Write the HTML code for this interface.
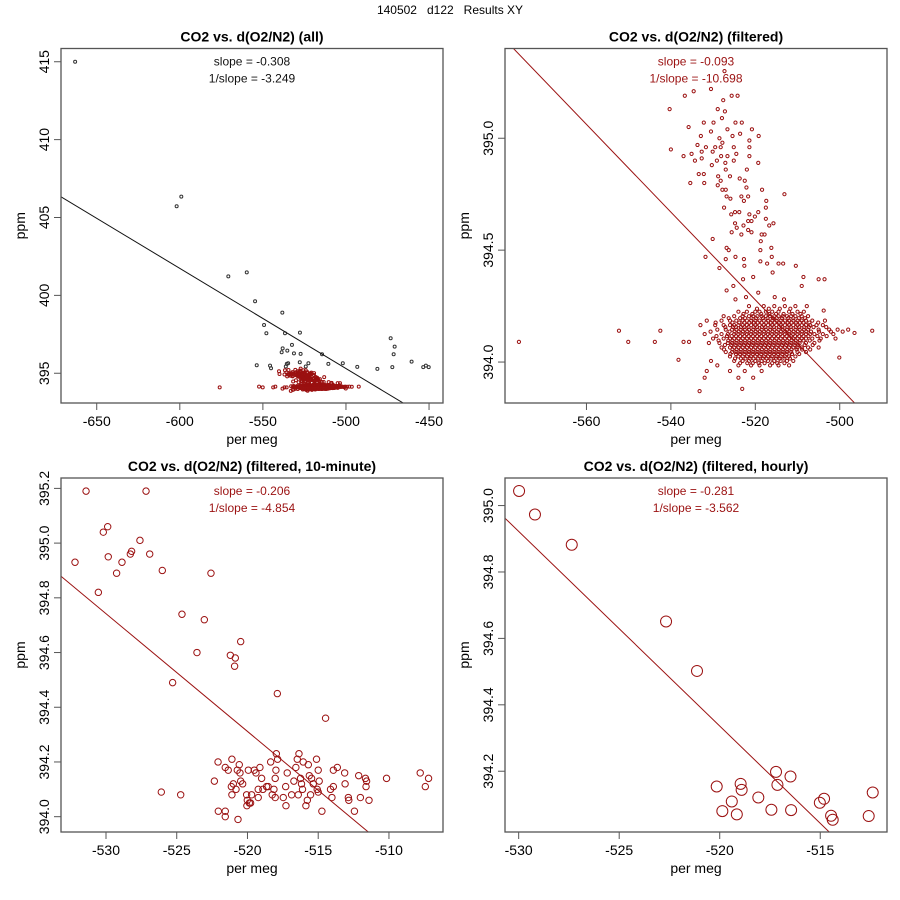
<!DOCTYPE html>
<html><head><meta charset="utf-8"><style>
html,body{margin:0;padding:0;background:#fff}
svg{display:block;font-family:"Liberation Sans",sans-serif}
</style></head><body>
<svg id="chart" width="900" height="900" viewBox="0 0 900 900" xmlns="http://www.w3.org/2000/svg">
<text x="450" y="14" text-anchor="middle" font-size="12" fill="#000" style="white-space:pre">140502   d122   Results XY</text>
</svg>
<script>
// ---- Panel 1 outliers (black, all data) ----
const allOutX = [-663.0,-601.9,-599.1,-570.8,-559.7,-554.7,-538.3,-549.3,-547.9,-536.7,-527.7,-532.5,-538.1,-535.3,-538.7,-531.3,-527.3,-514.4,-553.7,-545.7,-545.1,-535.6,-534.8,-536.2,-527.8,-522.6,-524.2,-510.6,-501.9,-493.2,-481.1,-473.1,-470.7,-471.3,-472.1,-460.5,-453.5,-451.9,-450.2];
const allOutY = [415.0,405.72,406.34,401.22,401.48,399.62,398.89,398.10,397.57,397.57,397.61,396.82,396.60,396.45,396.35,396.28,396.24,396.22,395.51,395.49,395.32,395.60,395.64,395.43,395.71,395.64,395.43,395.60,395.64,395.41,395.28,397.25,396.71,396.22,395.39,395.75,395.39,395.49,395.39];

// ---- Filtered data: scattered points ----
const filtScatX = [-576.0,-552.3,-550.1,-543.8,-542.5,-538.2,-537.0,-535.7,-533.2,-523.1,-492.3,-496.5,-500.1,
-527.3,-530.5,-536.7,-534.6,-527.6,-525.6,-524.2,-540.3,-528.9,-527.2,-535.8,-532.2,-529.9,-527.9,-524.7,-523.2,-520.8,-519.2,-532.9,-530.5,-528.5,-526.6,-525.4,-523.6,-540.0,-537.0,-535.1,-533.7,-532.7,-531.7,-530.1,-529.5,-528.2,-527.8,-526.6,-525.1,-524.5,-534.3,-532.7,-530.3,-529.1,-528.1,-527.1,-525.1,-521.4,-521.4,-521.4,-519.3,-533.4,-532.2,-528.8,-527.0,-526.0,-523.7,-522.0,-535.4,-532.1,-528.9,-528.2,-522.5,-522.1,-527.8,-527.0,-518.4,-513.1,-526.8,-525.9,-523.3,-522.7,-521.7,-517.4,-517.5,-527.4,-524.8,-523.8,-521.4,-520.1,-519.3,-525.7,-521.7,-520.9,-517.5,-516.7,-515.7,-524.8,-524.4,-522.8,-521.7,-520.9,-518.5,-517.8,-525.6,-523.3,-530.1,-518.7,-516.2,-526.8,-526.3,-518.8,-531.8,-524.7,-522.7,-527.0,-518.8,-517.2,-516.1,-514.5,-513.4,-522.6,-510.4,-528.5,-515.9,-508.6,-522.9,-520.5,-505.0,-503.6,-509.0,-525.2,-526.8,-519.3,-522.2,-524.7,-515.4,-513.2,-503.8];
const filtScatY = [394.09,394.14,394.09,394.09,394.14,394.01,394.09,394.09,393.87,393.88,394.14,394.13,394.02,
395.30,395.22,395.19,395.21,395.17,395.19,395.19,395.13,395.13,395.12,395.05,395.07,395.07,395.09,395.07,395.07,395.04,395.01,395.01,395.03,395.00,395.04,395.01,395.02,394.95,394.92,394.93,394.97,394.94,394.96,394.94,394.96,394.96,394.98,394.92,394.96,394.93,394.90,394.91,394.88,394.90,394.92,394.89,394.90,394.99,394.96,394.92,394.89,394.84,394.84,394.83,394.86,394.83,394.82,394.86,394.80,394.80,394.79,394.81,394.81,394.78,394.77,394.77,394.77,394.75,394.74,394.73,394.74,394.72,394.74,394.72,394.69,394.69,394.67,394.67,394.66,394.65,394.67,394.66,394.63,394.63,394.64,394.61,394.62,394.62,394.60,394.61,394.59,394.58,394.57,394.57,394.58,394.57,394.55,394.54,394.51,394.51,394.50,394.50,394.47,394.47,394.46,394.46,394.45,394.44,394.47,394.44,394.44,394.43,394.43,394.42,394.40,394.38,394.37,394.38,394.37,394.37,394.34,394.34,394.32,394.31,394.29,394.28,394.29,394.28,394.23];

// ---- Filtered data: dense cluster rows ----
const blobRowY = [394.25,394.225,394.205,394.185,394.165,394.145,394.125,394.105,394.085,394.065,394.045,394.025,394.005,393.985,393.96,393.93,
394.238,394.215,394.196,394.176,394.156,394.136,394.116,394.096,394.076,394.056,394.036,394.016,393.995];
const blobRowX = [
[-521.5,-518,-515.5,-513,-510.5,-507.8],
[-524,-522,-520,-519,-517.5,-516,-514.5,-512,-510,-508.5],
[-527.5,-525,-523,-521.5,-520.5,-519.5,-518.5,-517.5,-516.5,-515.5,-514.5,-513.5,-512.5,-511.5,-510.5,-509,-507.5],
[-531.5,-528,-526,-524.5,-523,-522,-521,-520,-519,-518,-517,-516,-515,-514,-513,-512,-511,-510,-509,-508,-506.5,-503.5],
[-533,-529.5,-527.5,-526,-525,-524,-523,-522,-521,-520,-519,-518,-517,-516,-515,-514,-513,-512,-511,-510,-509,-508,-507,-505.5,-504],
[-529,-527,-525.5,-524.5,-523.5,-522.5,-521.5,-520.5,-519.5,-518.5,-517.5,-516.5,-515.5,-514.5,-513.5,-512.5,-511.5,-510.5,-509.5,-508.5,-507.5,-505,-502.5,-500.5,-498],
[-532,-528,-526.5,-525,-524,-523,-522,-521,-520,-519,-518,-517,-516,-515,-514,-513,-512,-511,-510,-509,-508,-507,-506,-504,-501.5],
[-530,-527.5,-526,-525,-524,-523,-522,-521,-520,-519,-518,-517,-516,-515,-514,-513,-512,-511,-510,-509,-508,-506.5,-504.5,-501],
[-531,-528.5,-526.5,-525.5,-524.5,-523.5,-522.5,-521.5,-520.5,-519.5,-518.5,-517.5,-516.5,-515.5,-514.5,-513.5,-512.5,-511.5,-510.5,-509.5,-508,-506],
[-528,-526,-525,-524,-523,-522,-521,-520,-519,-518,-517,-516,-515,-514,-513,-512,-511,-510,-509,-507.5,-505],
[-527,-525.5,-524.5,-523.5,-522.5,-521.5,-520.5,-519.5,-518.5,-517.5,-516.5,-515.5,-514.5,-513.5,-512.5,-511.5,-510,-508],
[-526,-524,-523,-522,-521,-520,-519,-518,-517,-516,-515,-514,-513,-512,-510.5],
[-530.5,-525,-523,-521.5,-520,-518.5,-517,-515.5,-514,-512.5,-511],
[-529,-524,-521,-519,-516.5,-514.5,-512],
[-531.5,-526,-522.5,-518.5],
[-532,-524,-520.5],
[-519.6,-516.8,-514.2,-511.7],
[-522.8,-520.7,-518.6,-516.7,-515.1,-513.3,-511.2,-509.3],
[-526.3,-523.6,-522.4,-520.9,-519.8,-518.2,-517.1,-515.8,-514.9,-513.7,-512.2,-511.0,-509.7,-508.2],
[-529.4,-525.4,-523.8,-522.6,-521.4,-520.3,-519.4,-518.5,-517.4,-516.3,-515.4,-514.3,-513.4,-512.3,-511.4,-510.3,-509.4,-508.6,-507.2,-505.1],
[-527.1,-525.3,-524.6,-523.4,-522.6,-521.6,-520.4,-519.6,-518.4,-517.6,-516.4,-515.6,-514.4,-513.6,-512.4,-511.6,-510.4,-509.6,-508.4,-507.3,-506.2,-503.2],
[-530.6,-526.1,-524.9,-523.9,-522.9,-521.9,-520.9,-519.9,-518.9,-517.9,-516.9,-515.9,-514.9,-513.9,-512.9,-511.9,-510.9,-509.9,-508.9,-507.9,-506.8,-504.9,-502.1,-499.3],
[-529.2,-526.7,-525.6,-524.6,-523.6,-522.6,-521.6,-520.6,-519.6,-518.6,-517.6,-516.6,-515.6,-514.6,-513.6,-512.6,-511.6,-510.6,-509.6,-508.6,-507.4,-505.3,-503.1],
[-528.7,-526.4,-525.4,-524.4,-523.4,-522.4,-521.4,-520.4,-519.4,-518.4,-517.4,-516.4,-515.4,-514.4,-513.4,-512.4,-511.4,-510.4,-509.4,-508.6,-507.1,-504.8],
[-527.2,-525.7,-524.7,-523.7,-522.7,-521.7,-520.7,-519.7,-518.7,-517.7,-516.7,-515.7,-514.7,-513.7,-512.7,-511.7,-510.7,-509.8,-508.3,-506.4],
[-527.4,-525.4,-524.4,-523.4,-522.4,-521.4,-520.4,-519.4,-518.4,-517.4,-516.4,-515.4,-514.4,-513.4,-512.4,-511.4,-510.2,-508.9,-507.0],
[-525.9,-524.6,-523.6,-522.6,-521.6,-520.6,-519.6,-518.6,-517.6,-516.6,-515.6,-514.6,-513.6,-512.6,-511.3,-509.6],
[-524.8,-523.4,-522.3,-521.2,-520.4,-519.3,-518.2,-517.3,-516.2,-515.1,-514.2,-513.1,-511.8],
[-523.6,-521.9,-520.6,-519.2,-517.8,-516.0,-514.8,-513.1]];

// ---- 10-minute means ----
const tenX = [-531.41,-527.17,-532.19,-530.19,-529.88,-529.84,-530.54,-529.25,-528.87,-528.28,-528.19,-527.60,-526.91,-526.02,-522.58,-524.63,-523.05,-523.57,-521.21,-520.86,-520.91,-520.48,-525.29,-517.89,-514.48,-526.09,-524.72,
-522.08,-522.34,-521.57,-521.36,-521.10,-520.58,-520.72,-520.53,-520.48,-520.34,-521.00,-521.14,-520.81,-521.10,-522.06,-521.57,-521.57,-520.67,-519.94,-520.06,-520.01,-520.04,-519.87,-519.78,-519.71,-519.52,-519.40,-519.12,-519.00,-519.24,-519.24,-518.91,-518.65,-518.54,-518.36,-518.25,-518.13,-518.04,-517.99,-518.04,-517.96,-517.87,-517.47,-517.28,-517.30,-517.19,-516.88,-516.72,-516.58,-516.48,-516.36,-516.41,-516.25,-516.18,-516.06,-516.11,-515.87,-515.77,-515.70,-515.63,-515.54,-515.47,-515.35,-515.12,-515.00,-515.07,-515.00,-514.93,-514.74,-514.13,-514.03,-513.93,-513.93,-513.65,-513.13,-513.10,-512.87,-512.84,-512.44,-512.14,-512.02,-511.66,-511.58,-511.62,-511.41,-510.17,-507.79,-507.43,-507.20];
const tenY = [395.19,395.19,394.93,395.04,395.06,394.95,394.82,394.89,394.93,394.96,394.97,395.01,394.96,394.90,394.89,394.74,394.72,394.60,394.59,394.58,394.55,394.64,394.49,394.45,394.36,394.09,394.08,
394.20,394.13,394.18,394.17,394.21,394.19,394.17,394.16,394.13,394.12,394.12,394.11,394.10,394.08,394.02,394.02,394.00,393.99,394.17,394.08,394.06,394.04,394.05,394.05,394.08,394.17,394.16,394.18,394.14,394.10,394.07,394.10,394.11,394.11,394.20,394.08,394.10,394.07,394.17,394.14,394.23,394.21,394.07,394.04,394.11,394.16,394.08,394.13,394.18,394.21,394.23,394.08,394.14,394.12,394.20,394.10,394.04,394.06,394.19,394.15,394.08,394.14,394.12,394.21,394.17,394.10,394.09,394.13,394.02,394.10,394.07,394.11,394.17,394.18,394.16,394.12,394.07,394.06,394.02,394.15,394.07,394.14,394.13,394.11,394.06,394.14,394.16,394.11,394.14];

// ---- hourly means ----
const hrX = [-529.98,-529.19,-527.36,-522.67,-521.13,-520.15,-519.87,-519.40,-519.15,-518.96,-518.91,-518.08,-517.43,-517.20,-517.13,-516.48,-516.45,-515.02,-514.81,-514.46,-514.38,-512.59,-512.39];
const hrY = [395.044,394.973,394.882,394.651,394.502,394.154,394.080,394.109,394.070,394.162,394.144,394.121,394.084,394.198,394.159,394.184,394.083,394.105,394.117,394.066,394.054,394.065,394.136];

// ---- fit lines (reference point + slope in data units) ----
const fitX0 = [-671.5,-577.3,-533.18,-530.68];
const fitY0 = [406.33,395.401,394.879,394.962];
const fitSlope = [-0.0643,-0.0196,-0.04305,-0.0586];

// ---- ticks ----
const xTicks1 = [-650,-600,-550,-500,-450];
const yTicks1 = [395,400,405,410,415];
const xTicks2 = [-560,-540,-520,-500];
const yTicks2 = [394.0,394.5,395.0];
const xTicks3 = [-530,-525,-520,-515,-510];
const yTicks3 = [394.0,394.2,394.4,394.6,394.8,395.0,395.2];
const xTicks4 = [-530,-525,-520,-515];
const yTicks4 = [394.2,394.4,394.6,394.8,395.0];

const filtX = filtScatX.slice();
const filtY = filtScatY.slice();
blobRowY.forEach((yv,i)=>{ blobRowX[i].forEach(xv=>{ filtX.push(xv); filtY.push(yv); }); });

const NS = "http://www.w3.org/2000/svg";
const svg = document.getElementById('chart');
const RED = "#9b1111";
function mk(tag, attrs, parent){ const e=document.createElementNS(NS,tag); for(const k in attrs) e.setAttribute(k,attrs[k]); (parent||svg).appendChild(e); return e; }

function panel(p){
  const g = mk('g',{});
  
  
  const sx = v => p.x0 + (v - p.xmin)/(p.xmax-p.xmin)*(p.x1-p.x0);
  const sy = v => p.y1 - (v - p.ymin)/(p.ymax-p.ymin)*(p.y1-p.y0);
  const cid = 'clip-'+p.name;
  const cp = mk('clipPath',{id:cid},g); mk('rect',{x:p.x0,y:p.y0,width:p.x1-p.x0,height:p.y1-p.y0},cp);
  const t = mk('text',{x:(p.x0+p.x1)/2,y:p.y0-7,'text-anchor':'middle','font-size':14,'font-weight':'bold'},g);
  t.textContent = p.title;
  
  
  p.stats.forEach((s,i)=>{
    const st = mk('text',{x:(p.x0+p.x1)/2,y:p.y0+17+i*17,'text-anchor':'middle','font-size':12,fill:p.statColor},g);
    st.textContent = s;
    
    
  });
  p.series.forEach(se=>{
    const sg = mk('g',{'clip-path':'url(#'+cid+')'},g);
    
    
    se.x.forEach((xv,i)=>{
      const c = mk('circle',{cx:sx(xv),cy:sy(se.y[i]),r:se.r,fill:'none',stroke:se.color,'stroke-width':se.sw||1},sg);
      
      
    });
  });
  const k = p.idx;
  const xa = p.xmin, xb = p.xmax;
  const ya = fitY0[k] + fitSlope[k]*(xa-fitX0[k]);
  const yb = fitY0[k] + fitSlope[k]*(xb-fitX0[k]);
  const ln = mk('line',{x1:sx(xa),y1:sy(ya),x2:sx(xb),y2:sy(yb),stroke:p.lineColor,'stroke-width':1,'clip-path':'url(#'+cid+')'},g);
  
  
  const bx = mk('rect',{x:p.x0,y:p.y0,width:p.x1-p.x0,height:p.y1-p.y0,fill:'none',stroke:'#555','stroke-width':1.3},g);
  
  
  p.xt.forEach(v=>{
    const X = sx(v);
    mk('line',{x1:X,y1:p.y1,x2:X,y2:p.y1+7,stroke:'#555'},g);
    const tl = mk('text',{x:X,y:p.y1+23,'text-anchor':'middle','font-size':14},g);
    tl.textContent = String(v);
    
    
  });
  p.yt.forEach(v=>{
    const Y = sy(v);
    mk('line',{x1:p.x0,y1:Y,x2:p.x0-7,y2:Y,stroke:'#555'},g);
    const tl = mk('text',{x:p.x0-12,y:Y,'text-anchor':'middle','font-size':14,transform:'rotate(-90 '+(p.x0-12)+' '+Y+')'},g);
    tl.textContent = p.yfmt(v);
    
    
  });
  const xl = mk('text',{x:(p.x0+p.x1)/2,y:p.y1+41,'text-anchor':'middle','font-size':14},g);
  xl.textContent='per meg';
  
  
  const ym = (p.y0+p.y1)/2, yx = p.x0-36;
  const yl = mk('text',{x:yx,y:ym,'text-anchor':'middle','font-size':14,transform:'rotate(-90 '+yx+' '+ym+')'},g);
  yl.textContent='ppm';
  
  
}

panel({name:'panel-all',idx:0,title:'CO2 vs. d(O2/N2) (all)',x0:61,x1:443,y0:48.5,y1:403,xmin:-671.5,xmax:-441.6,ymin:393.09,ymax:415.85,
  xt:xTicks1,yt:yTicks1,yfmt:v=>String(v),stats:['slope = -0.308','1/slope = -3.249'],statColor:'#111',lineColor:'#111',
  series:[{name:'excluded-points',x:allOutX,y:allOutY,r:1.5,color:'#333'},{name:'filtered-points',x:filtX,y:filtY,r:1.5,color:RED}]});
panel({name:'panel-filtered',idx:1,title:'CO2 vs. d(O2/N2) (filtered)',x0:505,x1:887,y0:48.5,y1:403,xmin:-579.3,xmax:-488.8,ymin:393.817,ymax:395.401,
  xt:xTicks2,yt:yTicks2,yfmt:v=>v.toFixed(1),stats:['slope = -0.093','1/slope = -10.698'],statColor:RED,lineColor:RED,
  series:[{name:'filtered-points',x:filtX,y:filtY,r:1.6,color:RED}]});
panel({name:'panel-10-minute',idx:2,title:'CO2 vs. d(O2/N2) (filtered, 10-minute)',x0:61,x1:443,y0:478,y1:832,xmin:-533.18,xmax:-506.18,ymin:393.944,ymax:395.238,
  xt:xTicks3,yt:yTicks3,yfmt:v=>v.toFixed(1),stats:['slope = -0.206','1/slope = -4.854'],statColor:RED,lineColor:RED,
  series:[{name:'ten-minute-points',x:tenX,y:tenY,r:3.2,color:RED}]});
panel({name:'panel-hourly',idx:3,title:'CO2 vs. d(O2/N2) (filtered, hourly)',x0:505,x1:887,y0:478,y1:832,xmin:-530.68,xmax:-511.68,ymin:394.017,ymax:395.083,
  xt:xTicks4,yt:yTicks4,yfmt:v=>v.toFixed(1),stats:['slope = -0.281','1/slope = -3.562'],statColor:RED,lineColor:RED,
  series:[{name:'hourly-points',x:hrX,y:hrY,r:5.5,color:RED}]});
</script>
</body></html>
